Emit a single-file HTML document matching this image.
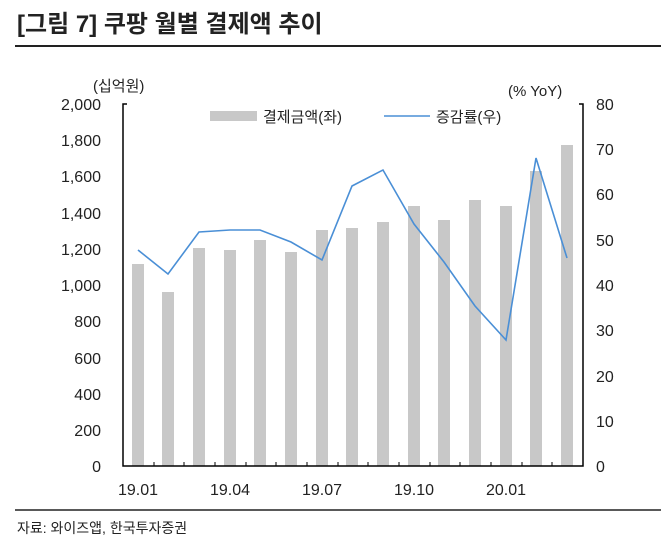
<!DOCTYPE html>
<html><head><meta charset="utf-8"><style>
body{margin:0;background:#fff;width:661px;height:544px;overflow:hidden}
svg text{font-family:"Liberation Sans","Noto Sans CJK KR",sans-serif;fill:#222}
</style></head><body>
<svg width="661" height="544" xmlns="http://www.w3.org/2000/svg">
<text x="17" y="32" font-size="24" font-weight="bold">[그림 7] 쿠팡 월별 결제액 추이</text>
<line x1="15" y1="46" x2="661" y2="46" stroke="#222" stroke-width="2"/>
<text x="93" y="91" font-size="15">(십억원)</text>
<text x="508" y="96" font-size="15">(% YoY)</text>
<g font-size="16" text-anchor="end">
<text x="101" y="110">2,000</text><text x="101" y="146">1,800</text><text x="101" y="182">1,600</text><text x="101" y="219">1,400</text><text x="101" y="255">1,200</text><text x="101" y="291">1,000</text><text x="101" y="327">800</text><text x="101" y="364">600</text><text x="101" y="400">400</text><text x="101" y="436">200</text><text x="101" y="472">0</text>
</g>
<g font-size="16" text-anchor="start">
<text x="596" y="110">80</text><text x="596" y="155">70</text><text x="596" y="200">60</text><text x="596" y="246">50</text><text x="596" y="291">40</text><text x="596" y="336">30</text><text x="596" y="382">20</text><text x="596" y="427">10</text><text x="596" y="472">0</text>
</g>
<g fill="#c8c8c8">
<rect x="132" y="264" width="12" height="202"/>
<rect x="162" y="292" width="12" height="174"/>
<rect x="193" y="248" width="12" height="218"/>
<rect x="224" y="250" width="12" height="216"/>
<rect x="254" y="240" width="12" height="226"/>
<rect x="285" y="252" width="12" height="214"/>
<rect x="316" y="230" width="12" height="236"/>
<rect x="346" y="228" width="12" height="238"/>
<rect x="377" y="222" width="12" height="244"/>
<rect x="408" y="206" width="12" height="260"/>
<rect x="438" y="220" width="12" height="246"/>
<rect x="469" y="200" width="12" height="266"/>
<rect x="500" y="206" width="12" height="260"/>
<rect x="530" y="171" width="12" height="295"/>
<rect x="561" y="145" width="12" height="321"/>
</g>
<g stroke="#000" stroke-width="1.5" fill="none">
<path d="M127 104 H123 V466 H583 V104 H579"/>
</g>
<g stroke="#000" stroke-width="1">
<path d="M154 466v-4M184 466v-4M215 466v-4M246 466v-4M276 466v-4M307 466v-4M338 466v-4M368 466v-4M399 466v-4M430 466v-4M460 466v-4M491 466v-4M522 466v-4M552 466v-4"/>
</g>
<polyline fill="none" stroke="#4a8fd6" stroke-width="1.6" points="138,250 168,274 199,232 230,230 260,230 291,242 322,260 352,186 383,170 414,224 444,262 475,306 506,340 536,158 567,258"/>
<rect x="210" y="111" width="47" height="10" fill="#c8c8c8"/>
<text x="263" y="122" font-size="15">결제금액(좌)</text>
<line x1="384" y1="116" x2="430" y2="116" stroke="#4a8fd6" stroke-width="1.6"/>
<text x="436" y="122" font-size="15">증감률(우)</text>
<g font-size="16" text-anchor="middle">
<text x="138" y="495">19.01</text><text x="230" y="495">19.04</text><text x="322" y="495">19.07</text><text x="414" y="495">19.10</text><text x="506" y="495">20.01</text>
</g>
<line x1="15" y1="510" x2="661" y2="510" stroke="#222" stroke-width="1.5"/>
<text x="17" y="533" font-size="14">자료: 와이즈앱, 한국투자증권</text>
</svg>
</body></html>
